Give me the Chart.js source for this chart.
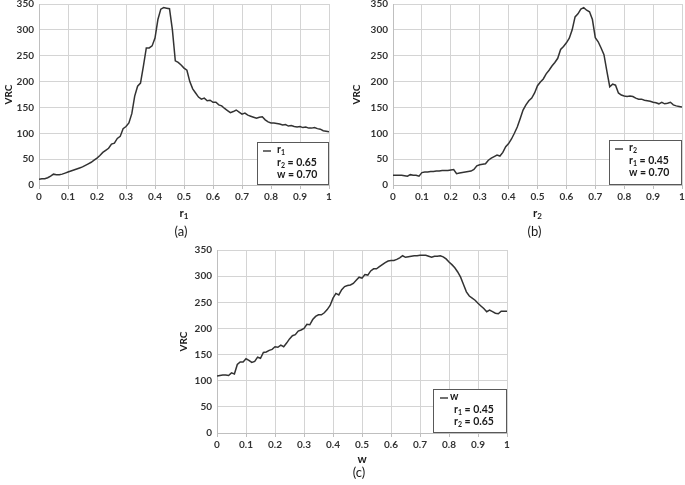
<!DOCTYPE html>
<html>
<head>
<meta charset="utf-8">
<script src="https://cdn.jsdelivr.net/npm/chart.js@4.4.1/dist/chart.umd.min.js"></script>
<style>
  body { margin: 0; background: #fff; width: 685px; height: 485px; overflow: hidden; position: relative; }
  .box { position: absolute; }
</style>
</head>
<body>
<div class="box" style="left:0px;top:0px;width:340px;height:245px"><canvas id="ca"></canvas></div>
<div class="box" style="left:350px;top:0px;width:335px;height:245px"><canvas id="cb"></canvas></div>
<div class="box" style="left:175px;top:245px;width:340px;height:240px"><canvas id="cc"></canvas></div>
<script>
// x positions, 0 to 1 by 0.01
const steps = Array.from({ length: 101 }, (_, i) => i / 100)

const xTickLabels = ['0', '0.1', '0.2', '0.3', '0.4', '0.5', '0.6', '0.7', '0.8', '0.9', '1']
const yTickLabels = ['0', '50', '100', '150', '200', '250', '300', '350']

// VRC vs r1 (r2 = 0.65, w = 0.70)
const vrcR1 = [
  11, 12, 12, 14, 17, 21, 20, 20, 21, 23,
  25, 27, 29, 31, 33, 35, 38, 41, 44, 48,
  52, 57, 63, 67, 71, 79, 81, 90, 94, 109,
  113, 120, 138, 172, 191, 197, 230, 265, 265, 269,
  284, 320, 340, 343, 342, 341, 300, 240, 237, 232,
  226, 222, 200, 186, 178, 170, 166, 168, 163, 164,
  160, 160, 155, 153, 148, 144, 140, 142, 145, 141,
  137, 139, 135, 133, 131, 129, 131, 132, 126, 122,
  120, 120, 119, 118, 116, 117, 114, 115, 113, 112,
  113, 111, 112, 110, 110, 111, 109, 108, 105, 104,
  103
]

// VRC vs r2 (r1 = 0.45, w = 0.70)
const vrcR2 = [
  19, 19, 19, 19, 18, 17, 20, 19, 19, 17,
  24, 25, 25, 26, 26, 27, 27, 28, 28, 28,
  29, 30, 22, 23, 24, 25, 26, 27, 30, 37,
  39, 40, 41, 48, 52, 55, 58, 56, 63, 74,
  80, 89, 100, 112, 128, 145, 155, 163, 168, 178,
  192, 199, 205, 215, 222, 230, 237, 245, 262, 268,
  275, 284, 300, 325, 331, 340, 343, 338, 335, 320,
  285, 277, 265, 252, 220, 190, 195, 193, 178, 174,
  172, 171, 172, 171, 168, 166, 166, 164, 163, 162,
  160, 159, 157, 160, 157, 158, 160, 155, 153, 152,
  151
]

// VRC vs w (r1 = 0.45, r2 = 0.65)
const vrcW = [
  109, 110, 111, 111, 110, 115, 113, 131, 136, 136,
  142, 139, 135, 137, 145, 143, 154, 155, 158, 160,
  165, 164, 168, 165, 172, 180, 186, 188, 195, 197,
  200, 208, 207, 217, 223, 226, 226, 230, 236, 244,
  258, 267, 264, 274, 280, 282, 283, 286, 292, 298,
  296, 303, 302, 310, 314, 314, 318, 322, 326, 329,
  330, 330, 332, 335, 339, 336, 337, 338, 339, 339,
  340, 340, 340, 338, 336, 338, 338, 339, 337, 333,
  327, 322, 316, 308, 298, 284, 270, 262, 258, 254,
  248, 243, 238, 232, 235, 232, 229, 228, 233, 233,
  233
]

// texts, "_x" = subscript
const legendA = ['r_1', 'r_2 = 0.65', 'w = 0.70']
const legendB = ['r_2', 'r_1 = 0.45', 'w = 0.70']
const legendC = ['w', 'r_1 = 0.45', 'r_2 = 0.65']

const lineColor = '#333333'
const gridColor = '#d4d4d4'
const textColor = '#333333'

// draws text with _x subscripts, returns width
function drawSub(ctx, str, x, y, size, align) {
  let parts = str.split(/_(\w)/)
  let big = 'bold ' + size + 'px Lato, "Open Sans", sans-serif'
  let small = 'bold ' + Math.round(size * 0.7) + 'px Lato, "Open Sans", sans-serif'
  let w = 0
  parts.forEach((p, i) => {
    ctx.font = i % 2 ? small : big
    w += ctx.measureText(p).width
  })
  if (align == 'center') x = x - w / 2
  ctx.textAlign = 'left'
  ctx.textBaseline = 'middle'
  parts.forEach((p, i) => {
    ctx.font = i % 2 ? small : big
    ctx.fillText(p, x, i % 2 ? y + size * 0.3 : y)
    x += ctx.measureText(p).width
  })
  return w
}

const extras = {
  id: 'extras',
  afterDraw(chart, args, o) {
    const ctx = chart.ctx
    const a = chart.chartArea
    ctx.save()
    // legend box
    let bx = a.right - o.boxW
    let by = a.bottom - o.boxH
    ctx.fillStyle = '#fff'
    ctx.fillRect(bx, by, o.boxW, o.boxH)
    ctx.strokeStyle = '#595959'
    ctx.lineWidth = 1
    ctx.strokeRect(Math.round(bx) + 0.5, Math.round(by) + 0.5, o.boxW - 1, o.boxH - 1)
    ctx.strokeStyle = lineColor
    ctx.lineWidth = 1.4
    ctx.beginPath()
    ctx.moveTo(bx + o.sample, by + 9)
    ctx.lineTo(bx + o.sample + 8, by + 9)
    ctx.stroke()
    ctx.fillStyle = '#1a1a1a'
    drawSub(ctx, o.legend[0], bx + o.first, by + 8, 10.5)
    drawSub(ctx, o.legend[1], bx + o.indent, by + 21, 10.5)
    drawSub(ctx, o.legend[2], bx + o.indent, by + 33, 10.5)
    // x axis title and panel label
    let cx = (a.left + a.right) / 2
    drawSub(ctx, o.xTitle, cx, o.titleY, 11.5, 'center')
    ctx.font = '13px Lato, "Open Sans", sans-serif'
    ctx.textAlign = 'center'
    ctx.fillText(o.panel, cx - 3, o.panelY)
    ctx.restore()
  }
}

function makeChart(id, values, opts) {
  return new Chart(document.getElementById(id), {
    type: 'line',
    data: {
      datasets: [{
        data: steps.map((x, i) => ({ x: x, y: values[i] })),
        borderColor: lineColor,
        borderWidth: 1.5,
        pointRadius: 0,
        tension: 0
      }]
    },
    options: {
      responsive: true,
      maintainAspectRatio: false,
      animation: false,
      layout: { padding: { top: opts.top, right: opts.right, left: 0, bottom: 0 } },
      plugins: {
        legend: { display: false },
        tooltip: { enabled: false },
        extras: opts.extras
      },
      scales: {
        x: {
          type: 'linear',
          min: 0,
          max: 1,
          ticks: {
            stepSize: 0.1,
            color: textColor,
            font: { family: 'Lato', weight: 'bold', size: 10 },
            padding: 2,
            maxRotation: 0,
            callback: (v, i) => xTickLabels[i]
          },
          grid: { color: gridColor, tickLength: 4, tickColor: '#bfbfbf' },
          border: { color: '#bfbfbf' },
          afterFit: (s) => { s.height = opts.xh; s.paddingLeft = 0; s.paddingRight = 0 }
        },
        y: {
          min: 0,
          max: 350,
          ticks: {
            stepSize: 50,
            color: textColor,
            font: { family: 'Lato', weight: 'bold', size: 10 },
            padding: 5,
            callback: (v, i) => yTickLabels[i]
          },
          grid: { color: gridColor, tickLength: 0 },
          border: { color: '#bfbfbf' },
          title: {
            display: true,
            text: 'VRC',
            color: '#1a1a1a',
            font: { family: 'Lato', weight: 'bold', size: 10 },
            padding: { top: opts.titlePad, bottom: 0 }
          },
          afterFit: (s) => { s.width = opts.yw; s.paddingTop = 0; s.paddingBottom = 0 }
        }
      }
    },
    plugins: [extras]
  })
}

makeChart('ca', vrcR1, {
  top: 4, right: 11, yw: 39, xh: 60, titlePad: 3,
  extras: { legend: legendA, boxW: 72, boxH: 43, sample: 6, first: 20, indent: 20, xTitle: 'r_1', titleY: 213, panel: '(a)', panelY: 232 }
})

makeChart('cb', vrcR2, {
  top: 4, right: 3, yw: 43, xh: 60, titlePad: 1,
  extras: { legend: legendB, boxW: 73, boxH: 45, sample: 6, first: 20, indent: 20, xTitle: 'r_2', titleY: 213, panel: '(b)', panelY: 232 }
})

makeChart('cc', vrcW, {
  top: 5, right: 8, yw: 42, xh: 52, titlePad: 3,
  extras: { legend: legendC, boxW: 74, boxH: 44, sample: 7, first: 17, indent: 21, xTitle: 'w', titleY: 214, panel: '(c)', panelY: 228 }
})
</script>
</body>
</html>
